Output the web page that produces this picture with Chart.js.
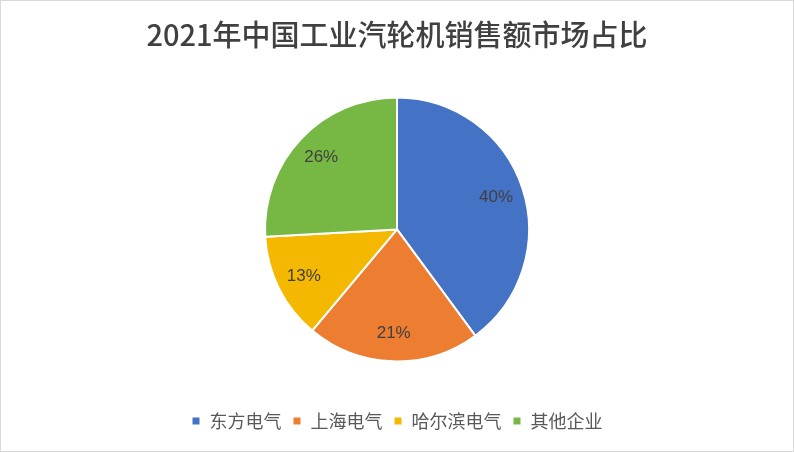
<!DOCTYPE html>
<html>
<head>
<meta charset="utf-8">
<script src="https://cdn.jsdelivr.net/npm/chart.js@4"></script>
<style>
  html, body { margin: 0; padding: 0; background: #fff; }
  #wrap { position: relative; width: 794px; height: 452px; box-sizing: border-box; border: 1px solid #d9d9d9; }
  canvas { display: block; }
</style>
</head>
<body>
<div id="wrap"><canvas id="pieChart" width="792" height="450"></canvas></div>
<script>
// 图表数据
const titleText = '2021年中国工业汽轮机销售额市场占比';
const companies = ['东方电气', '上海电气', '哈尔滨电气', '其他企业'];
const shares = [39.9, 21.2, 13.0, 25.9];
const sliceColors = ['#4472C4', '#ED7D31', '#F4B800', '#76B843'];

// 扇区上的百分比标签
const sliceLabels = {
    id: 'sliceLabels',
    afterDatasetsDraw(chart) {
        const ctx = chart.ctx;
        const meta = chart.getDatasetMeta(0);
        const total = shares.reduce((a, b) => a + b, 0);
        ctx.save();
        ctx.font = '17px "Liberation Sans", "Noto Sans", sans-serif';
        ctx.fillStyle = '#404040';
        ctx.textAlign = 'center';
        ctx.textBaseline = 'middle';
        meta.data.forEach((arc, i) => {
            const p = arc.getProps(['x', 'y', 'startAngle', 'endAngle', 'outerRadius'], true);
            const mid = (p.startAngle + p.endAngle) / 2;
            const r = p.outerRadius * 0.79;
            const text = Math.round(shares[i] / total * 100) + '%';
            ctx.fillText(text, p.x + Math.cos(mid) * r, p.y + Math.sin(mid) * r);
        });
        ctx.restore();
    }
};

const ctx = document.getElementById('pieChart').getContext('2d');
new Chart(ctx, {
    type: 'pie',
    data: {
        labels: companies,
        datasets: [{
            data: shares,
            backgroundColor: sliceColors,
            borderColor: '#ffffff',
            borderWidth: 2,
            radius: 132
        }]
    },
    options: {
        responsive: false,
        animation: false,
        layout: { padding: { top: 3, bottom: 11 } },
        plugins: {
            title: {
                display: true,
                text: titleText,
                color: '#404040',
                font: { family: '"Noto Sans CJK SC", sans-serif', size: 29, weight: '500' },
                padding: { top: 14, bottom: 5 }
            },
            legend: {
                position: 'bottom',
                labels: {
                    color: '#595959',
                    font: { family: '"Noto Sans CJK SC", sans-serif', size: 18 },
                    boxWidth: 9,
                    boxHeight: 9,
                    padding: 11
                }
            },
            tooltip: { enabled: false }
        }
    },
    plugins: [sliceLabels]
});
</script>
</body>
</html>
